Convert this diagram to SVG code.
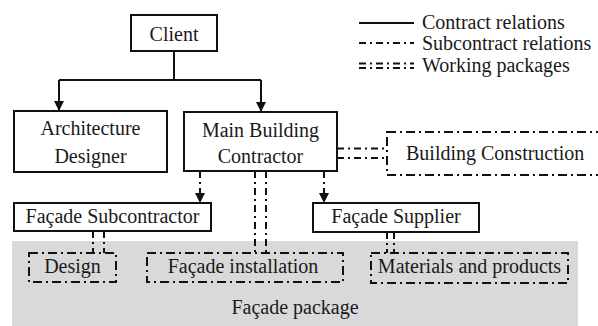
<svg xmlns="http://www.w3.org/2000/svg" width="598" height="326" viewBox="0 0 598 326">
<style>
text{font-family:'Liberation Serif','Times New Roman',Times,'DejaVu Serif',serif;font-size:20px;fill:#1a1a1a}
.box{fill:#fff;stroke:#111;stroke-width:2}
.pkg{fill:none;stroke:#111;stroke-width:2;stroke-dasharray:9 4 2 4}
.solid{fill:none;stroke:#111;stroke-width:2}
.dd{fill:none;stroke:#111;stroke-width:2;stroke-dasharray:7 4 2 4}
</style>
<defs>
<marker id="arr" viewBox="0 0 10 10" refX="10" refY="5" markerWidth="10" markerHeight="10" markerUnits="userSpaceOnUse" orient="auto">
<path d="M0,0 L10,5 L0,10 Z" fill="#111"/>
</marker>
</defs>
<g id="legend">
<line x1="359" y1="23" x2="414" y2="23" class="solid"/>
<text x="422" y="29" font-family="Liberation Serif">Contract relations</text>
<line x1="359" y1="43" x2="414" y2="43" class="dd"/>
<text x="422" y="50">Subcontract relations</text>
<line x1="359" y1="63.5" x2="414" y2="63.5" class="dd"/>
<line x1="359" y1="68" x2="414" y2="68" class="dd"/>
<text x="422" y="72">Working packages</text>
</g>
<g id="facade-package">
<rect x="12" y="241" width="566" height="85" fill="#d9d9d9"/>
<text x="295" y="314" text-anchor="middle">Façade package</text>
</g>
<g id="connectors">
<polyline points="174,51 174,80" class="solid"/>
<polyline points="59,80 261,80" class="solid"/>
<line x1="59" y1="80" x2="59" y2="111" class="solid" marker-end="url(#arr)"/>
<line x1="261" y1="80" x2="261" y2="112" class="solid" marker-end="url(#arr)"/>
<line x1="200" y1="171" x2="200" y2="203" class="dd" marker-end="url(#arr)"/>
<line x1="324" y1="171" x2="324" y2="203" class="dd" marker-end="url(#arr)"/>
<line x1="255" y1="171" x2="255" y2="253" class="dd"/>
<line x1="266" y1="171" x2="266" y2="253" class="dd"/>
<line x1="337" y1="148.5" x2="387" y2="148.5" class="dd"/>
<line x1="337" y1="158" x2="387" y2="158" class="dd"/>
<line x1="93" y1="231" x2="93" y2="253" class="dd"/>
<line x1="104" y1="231" x2="104" y2="253" class="dd"/>
<line x1="387" y1="232" x2="387" y2="253" class="dd"/>
<line x1="394" y1="232" x2="394" y2="253" class="dd"/>
</g>
<g id="client">
<rect x="131" y="15" width="86" height="36" class="box"/>
<text x="174" y="41" text-anchor="middle">Client</text>
</g>
<g id="architecture-designer">
<rect x="14" y="111" width="153" height="61" class="box"/>
<text x="90.5" y="135" text-anchor="middle">Architecture</text>
<text x="90.5" y="163" text-anchor="middle">Designer</text>
</g>
<g id="main-building-contractor">
<rect x="184" y="112" width="153" height="59" class="box"/>
<text x="260.5" y="137" text-anchor="middle">Main Building</text>
<text x="260.5" y="163" text-anchor="middle">Contractor</text>
</g>
<g id="building-construction">
<rect x="387" y="132" width="230" height="43" class="pkg"/>
<text x="406" y="160">Building Construction</text>
</g>
<g id="facade-subcontractor">
<rect x="14" y="203" width="197" height="28" class="box"/>
<text x="112.5" y="223" text-anchor="middle">Façade Subcontractor</text>
</g>
<g id="facade-supplier">
<rect x="313" y="203" width="166" height="29" class="box"/>
<text x="396" y="223" text-anchor="middle">Façade Supplier</text>
</g>
<g id="design">
<rect x="29" y="253" width="87" height="29" class="pkg"/>
<text x="72.5" y="273" text-anchor="middle">Design</text>
</g>
<g id="facade-installation">
<rect x="147" y="253" width="196" height="29" class="pkg"/>
<text x="243" y="273" text-anchor="middle">Façade installation</text>
</g>
<g id="materials-products">
<rect x="371" y="253" width="197" height="30" class="pkg"/>
<text x="469.5" y="273" text-anchor="middle">Materials and products</text>
</g>
</svg>
